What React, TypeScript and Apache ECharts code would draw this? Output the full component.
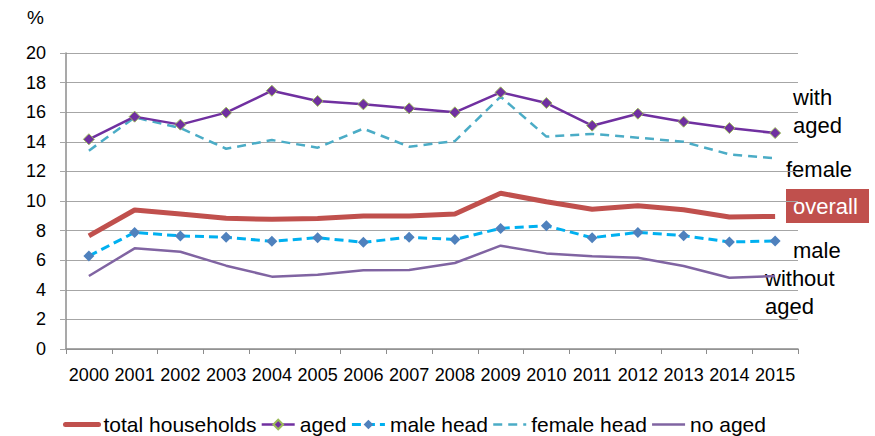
import React, { useEffect, useRef } from "react";
import * as echarts from "echarts";

const years = ["2000","2001","2002","2003","2004","2005","2006","2007","2008","2009","2010","2011","2012","2013","2014","2015"];
const totalHouseholds = [7.64, 9.39, 9.12, 8.83, 8.76, 8.82, 8.99, 8.99, 9.12, 10.52, 9.95, 9.44, 9.68, 9.41, 8.92, 8.96];
const aged = [14.17, 15.7, 15.16, 15.97, 17.45, 16.76, 16.53, 16.26, 15.99, 17.34, 16.62, 15.09, 15.9, 15.36, 14.93, 14.59];
const maleHead = [6.28, 7.88, 7.64, 7.55, 7.28, 7.52, 7.21, 7.55, 7.4, 8.15, 8.33, 7.52, 7.88, 7.66, 7.23, 7.3];
const femaleHead = [13.4, 15.65, 14.93, 13.53, 14.12, 13.6, 14.89, 13.67, 14.05, 17.05, 14.35, 14.53, 14.28, 14.0, 13.15, 12.88];
const noAged = [4.93, 6.8, 6.57, 5.63, 4.89, 5.02, 5.32, 5.34, 5.81, 6.98, 6.46, 6.26, 6.17, 5.61, 4.82, 4.93];
const seriesNames = ["total households", "aged", "male head", "female head", "no aged"];

const FONT = "'Liberation Sans', Arial, sans-serif";

export default function App() {
  const ref = useRef<HTMLDivElement>(null);
  useEffect(() => {
    document.body.style.margin = "0";
    if (!ref.current) return;
    const chart = echarts.init(ref.current, undefined, { renderer: "svg" });
    const labelStyle = { fontFamily: FONT, fontSize: 22, fill: "#000" };
    const hidden = { opacity: 0 };
    chart.setOption({
      animation: false,
      backgroundColor: "#fff",
      textStyle: { fontFamily: FONT },
      grid: { left: 66, right: 77, top: 53, bottom: 87 },
      legend: {
        left: 58,
        top: 409,
        itemWidth: 33,
        itemHeight: 12,
        itemGap: 4,
        textStyle: { fontFamily: FONT, fontSize: 21, color: "#000" },
        data: [
          { name: seriesNames[0], itemStyle: hidden, lineStyle: { width: 5, cap: "round" } },
          { name: seriesNames[1], lineStyle: { width: 2.5 } },
          { name: seriesNames[2], lineStyle: { width: 3 } },
          { name: seriesNames[3], itemStyle: hidden, lineStyle: { width: 2.5 } },
          { name: seriesNames[4], itemStyle: hidden, lineStyle: { width: 2.5 } },
        ],
      },
      xAxis: {
        type: "category",
        data: years,
        boundaryGap: true,
        axisLine: { lineStyle: { color: "#8c8c8c", width: 1.5 } },
        axisTick: { show: true, length: 5, lineStyle: { color: "#8c8c8c" } },
        axisLabel: { fontFamily: FONT, fontSize: 18, color: "#000", margin: 17, interval: 0 },
      },
      yAxis: {
        type: "value",
        min: 0,
        max: 20,
        interval: 2,
        axisLine: { show: true, lineStyle: { color: "#8c8c8c", width: 1.5 } },
        axisTick: { show: true, length: 6, lineStyle: { color: "#a6a6a6" } },
        splitLine: { lineStyle: { color: "#a6a6a6", width: 1.2 } },
        axisLabel: { fontFamily: FONT, fontSize: 18, color: "#000", margin: 20 },
      },
      graphic: [
        { type: "text", left: 27, top: 8, style: { ...labelStyle, text: "%", fontSize: 19 } },
        { type: "text", x: 793, y: 97, style: { ...labelStyle, text: "with", verticalAlign: "middle" } },
        { type: "text", x: 793, y: 125, style: { ...labelStyle, text: "aged", verticalAlign: "middle" } },
        { type: "text", x: 786, y: 169, style: { ...labelStyle, text: "female", verticalAlign: "middle" } },
        { type: "rect", shape: { x: 786, y: 189, width: 83, height: 34 }, style: { fill: "#C0504D" } },
        { type: "text", x: 793, y: 206, style: { ...labelStyle, fill: "#fff", text: "overall", verticalAlign: "middle" } },
        { type: "text", x: 793, y: 250, style: { ...labelStyle, text: "male", verticalAlign: "middle" } },
        { type: "text", x: 765, y: 278, style: { ...labelStyle, text: "without", verticalAlign: "middle" } },
        { type: "text", x: 765, y: 306, style: { ...labelStyle, text: "aged", verticalAlign: "middle" } },
      ],
      series: [
        {
          name: seriesNames[0], type: "line", data: totalHouseholds, symbol: "none", z: 3,
          itemStyle: { color: "#C0504D" },
          lineStyle: { color: "#C0504D", width: 5 },
        },
        {
          name: seriesNames[1], type: "line", data: aged, symbol: "diamond", symbolSize: 11, z: 4,
          itemStyle: { color: "#7030A0", borderColor: "#9BBB59", borderWidth: 1 },
          lineStyle: { color: "#7030A0", width: 2.5 },
        },
        {
          name: seriesNames[2], type: "line", data: maleHead, symbol: "diamond", symbolSize: 11, z: 4,
          itemStyle: { color: "#4F81BD" },
          lineStyle: { color: "#00B0F0", width: 3, type: [9, 5] },
        },
        {
          name: seriesNames[3], type: "line", data: femaleHead, symbol: "none", z: 3,
          itemStyle: { color: "#4BACC6" },
          lineStyle: { color: "#4BACC6", width: 2.5, type: [9, 6] },
        },
        {
          name: seriesNames[4], type: "line", data: noAged, symbol: "none", z: 3,
          itemStyle: { color: "#8064A2" },
          lineStyle: { color: "#8064A2", width: 2.5 },
        },
      ],
    });
    return () => chart.dispose();
  }, []);
  return <div ref={ref} style={{ width: 875, height: 436 }} />;
}
